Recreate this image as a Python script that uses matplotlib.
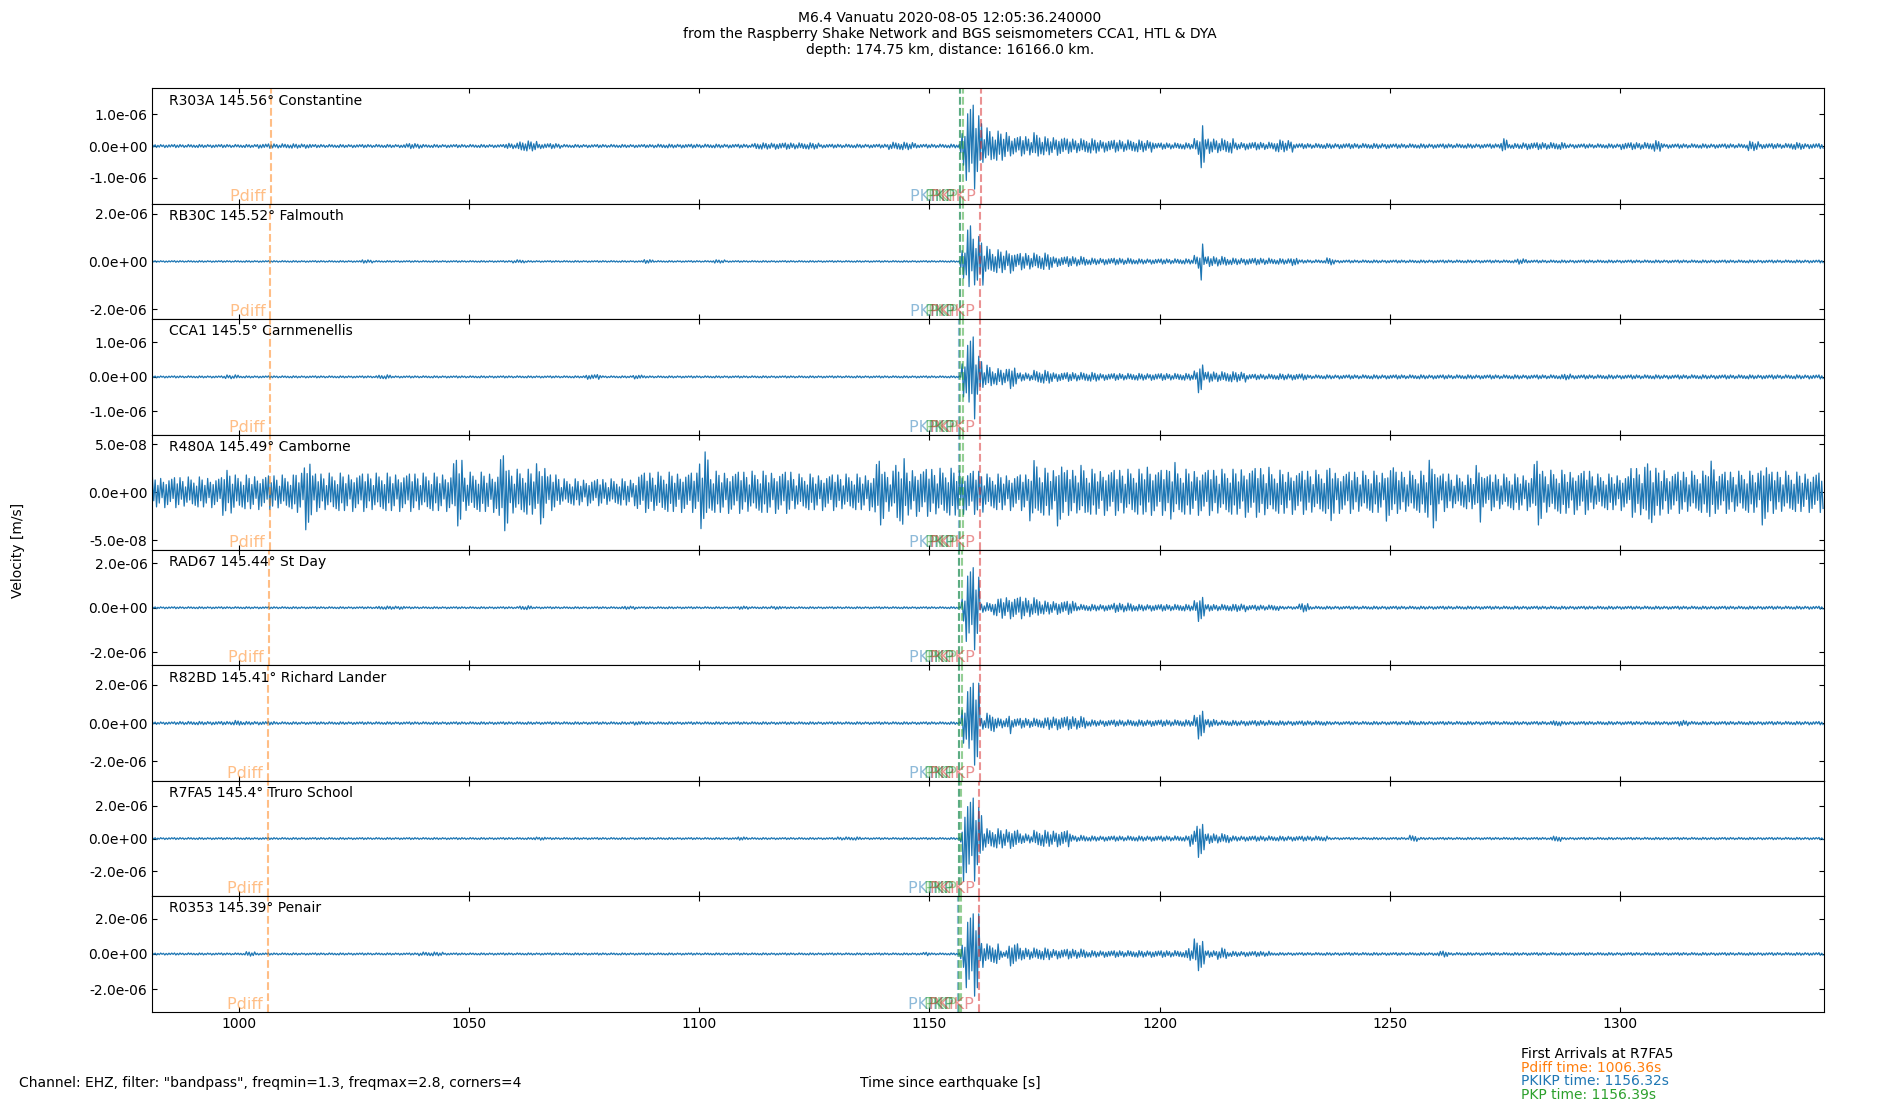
import numpy as np
import matplotlib
matplotlib.use("Agg")
import matplotlib.pyplot as plt
import matplotlib.transforms as mtransforms

# ---------------- data ----------------
title_lines = [
    "M6.4 Vanuatu 2020-08-05 12:05:36.240000",
    "from the Raspberry Shake Network and BGS seismometers CCA1, HTL & DYA",
    "depth: 174.75 km, distance: 16166.0 km.",
]
footer_left = 'Channel: EHZ, filter: "bandpass", freqmin=1.3, freqmax=2.8, corners=4'
x_label = "Time since earthquake [s]"
y_label = "Velocity [m/s]"

stations = ["R303A", "RB30C", "CCA1", "R480A", "RAD67", "R82BD", "R7FA5", "R0353"]
distances = ["145.56", "145.52", "145.5", "145.49", "145.44", "145.41", "145.4", "145.39"]
places = ["Constantine", "Falmouth", "Carnmenellis", "Camborne", "St Day",
          "Richard Lander", "Truro School", "Penair"]

# amplitude unit of each envelope list
units = [1e-6, 1e-6, 1e-6, 1e-8, 1e-6, 1e-6, 1e-6, 1e-6]
y_limits = [1.81e-6, 2.41e-6, 1.675e-6, 6.0e-8, 2.6e-6, 3.02e-6, 3.52e-6, 3.28e-6]
y_tick_steps = [1e-6, 2e-6, 1e-6, 5e-8, 2e-6, 2e-6, 2e-6, 2e-6]

trace_start = 981.3
trace_end = 1344.2
x_ticks = [1000, 1050, 1100, 1150, 1200, 1250, 1300]

phase_names = ["Pdiff", "PKIKP", "PKP", "PKP", "PKiKP"]
phase_colors = ["C1", "C0", "C2", "C2", "C3"]
arrivals = [
    [1007.06, 1156.62, 1156.69, 1157.35, 1161.11],
    [1006.89, 1156.55, 1156.62, 1157.25, 1161.04],
    [1006.80, 1156.51, 1156.58, 1157.20, 1161.01],
    [1006.76, 1156.49, 1156.56, 1157.18, 1160.99],
    [1006.54, 1156.40, 1156.47, 1157.05, 1160.91],
    [1006.40, 1156.34, 1156.41, 1156.98, 1160.87],
    [1006.36, 1156.32, 1156.39, 1156.95, 1160.85],
    [1006.32, 1156.30, 1156.37, 1156.93, 1160.83],
]

first_arrival_station = "R7FA5"
first_arrival_lines = ["Pdiff time: 1006.36s", "PKIKP time: 1156.32s", "PKP time: 1156.39s"]
first_arrival_colors = ["C1", "C0", "C2"]

# envelope (peak amplitude) per time segment, segment start times in s
seg_start_R303A = [981.3, 1004, 1016, 1036, 1040, 1058, 1060.5, 1065, 1070, 1090, 1112, 1126, 1141, 1147,
                   1156.6, 1157.7, 1159.8, 1161.3, 1163.5, 1167.4, 1172.5, 1174, 1179.7, 1187, 1198.5,
                   1207.2, 1208.7, 1209.8, 1216, 1225, 1229, 1250, 1273.8, 1275.5, 1278.5, 1288, 1300,
                   1307, 1309, 1327.5, 1330, 1337, 1340]
seg_amp_R303A = [0.05, 0.07, 0.05, 0.08, 0.05, 0.09, 0.16, 0.08, 0.05, 0.06, 0.10, 0.06, 0.12, 0.06,
                 0.60, 1.35, 1.00, 0.57, 0.47, 0.31, 0.42, 0.29, 0.23, 0.19, 0.10,
                 0.26, 0.85, 0.23, 0.12, 0.19, 0.08, 0.07, 0.23, 0.08, 0.11, 0.07, 0.11,
                 0.17, 0.07, 0.15, 0.08, 0.11, 0.08]

seg_start_RB30C = [981.3, 1026.5, 1029, 1059.5, 1062, 1087.5, 1090, 1103, 1105.5,
                   1156.6, 1158, 1159.1, 1160.6, 1161.7, 1163.1, 1168.2, 1176.8, 1184, 1194,
                   1207.2, 1208.7, 1209.4, 1214.5, 1224, 1228, 1230, 1236, 1238, 1277.5, 1279.5]
seg_amp_RB30C = [0.035, 0.07, 0.035, 0.07, 0.035, 0.08, 0.035, 0.07, 0.035,
                 0.70, 1.75, 0.98, 1.10, 0.63, 0.49, 0.35, 0.21, 0.14, 0.11,
                 0.28, 0.97, 0.21, 0.14, 0.12, 0.17, 0.07, 0.15, 0.06, 0.12, 0.06]

seg_start_CCA1 = [981.3, 997, 1000, 1030, 1033, 1075, 1078.5, 1085.5, 1088,
                  1157, 1158, 1159.8, 1161.3, 1163.5, 1166.7, 1168.9, 1172.5, 1176.8, 1187,
                  1207.2, 1208.3, 1209.4, 1218.8, 1226, 1232, 1287.5, 1289.5]
seg_amp_CCA1 = [0.03, 0.06, 0.03, 0.06, 0.03, 0.07, 0.03, 0.06, 0.03,
                0.58, 1.22, 0.63, 0.34, 0.24, 0.34, 0.12, 0.19, 0.13, 0.10,
                0.19, 0.46, 0.15, 0.08, 0.09, 0.06, 0.09, 0.06]

seg_start_R480A = [981.3, 996.5, 999, 1012, 1014, 1016, 1030, 1046.5, 1048.5, 1056.5, 1058.5, 1064.5,
                   1066.5, 1069.5, 1086.5, 1100, 1102, 1120, 1138, 1140, 1142.5, 1144.5, 1156.6,
                   1161.6, 1171.5, 1173.5, 1177.5, 1179, 1182, 1184, 1196.5, 1198, 1202, 1203.5,
                   1217.5, 1224, 1236.5, 1238, 1249, 1251, 1258, 1260, 1263, 1268.5, 1270, 1281,
                   1283, 1294, 1302, 1305.5, 1307, 1310, 1319, 1320.5, 1330.3, 1332, 1337]
seg_amp_R480A = [1.6, 2.4, 1.8, 2.2, 3.9, 2.0, 2.0, 3.5, 2.1, 4.0, 2.4, 3.3,
                 1.9, 1.4, 2.1, 4.2, 2.2, 1.9, 3.4, 2.2, 3.5, 2.5, 2.3,
                 1.9, 3.3, 2.5, 3.5, 2.4, 2.8, 2.4, 2.9, 2.4, 3.1, 2.4,
                 2.6, 2.3, 3.1, 2.2, 3.0, 2.2, 3.7, 2.0, 1.8, 3.1, 1.9, 3.4,
                 2.3, 1.9, 2.6, 3.7, 2.5, 2.2, 3.6, 2.2, 3.4, 2.2, 2.1]

seg_start_RAD67 = [981.3, 1030, 1036, 1061, 1063.5, 1083.5, 1086, 1108.5, 1111, 1115.5, 1118,
                   1157, 1157.7, 1159.9, 1160.9, 1163.8, 1165.3, 1170.3, 1174, 1181.9, 1189.9,
                   1194.2, 1207.2, 1208.3, 1209.8, 1216, 1218.8, 1224, 1226, 1230, 1232.5]
seg_amp_RAD67 = [0.045, 0.075, 0.045, 0.09, 0.045, 0.075, 0.045, 0.075, 0.045, 0.075, 0.045,
                 0.60, 1.90, 1.45, 0.23, 0.38, 0.50, 0.45, 0.30, 0.15, 0.21,
                 0.15, 0.35, 0.62, 0.15, 0.18, 0.12, 0.13, 0.07, 0.19, 0.07]

seg_start_R82BD = [981.3, 987, 998.5, 1000.5, 1008, 1085.5, 1088,
                   1157, 1158, 1160.9, 1162.4, 1164.5, 1166.7, 1167.8, 1175.4, 1184,
                   1207.2, 1208.3, 1209.8, 1212.5, 1224, 1236, 1253.5, 1255.5, 1285, 1287,
                   1312.5, 1315]
seg_amp_R82BD = [0.07, 0.09, 0.14, 0.09, 0.07, 0.10, 0.07,
                 1.05, 2.20, 0.35, 0.52, 0.26, 0.55, 0.26, 0.35, 0.17,
                 0.45, 0.83, 0.20, 0.14, 0.12, 0.09, 0.12, 0.09, 0.15, 0.09,
                 0.15, 0.09]

seg_start_R7FA5 = [981.3, 1064, 1066.5, 1108, 1110.5, 1130, 1135,
                   1156.6, 1157.3, 1159.9, 1161.3, 1162.4, 1169.6, 1172.5, 1180.5, 1184,
                   1206.5, 1207.8, 1209.8, 1215.2, 1224, 1236.5, 1254, 1256, 1285, 1287]
seg_amp_R7FA5 = [0.06, 0.10, 0.06, 0.10, 0.06, 0.10, 0.06,
                 0.60, 2.60, 2.00, 0.80, 0.60, 0.30, 0.50, 0.20, 0.16,
                 0.50, 1.15, 0.30, 0.16, 0.15, 0.07, 0.20, 0.07, 0.18, 0.07]

seg_start_R0353 = [981.3, 1001.5, 1004, 1039, 1044.5, 1148.5, 1150,
                   1156.6, 1157.7, 1160.9, 1162, 1165.3, 1166.7, 1169.6, 1176.1, 1184,
                   1205.8, 1207.2, 1209.8, 1212.3, 1214.5, 1224, 1260.5, 1262.5]
seg_amp_R0353 = [0.06, 0.13, 0.06, 0.11, 0.06, 0.10, 0.06,
                 0.76, 2.40, 0.85, 0.57, 0.20, 0.68, 0.34, 0.28, 0.19,
                 0.38, 0.95, 0.19, 0.34, 0.15, 0.08, 0.17, 0.08]

seg_starts = [seg_start_R303A, seg_start_RB30C, seg_start_CCA1, seg_start_R480A,
              seg_start_RAD67, seg_start_R82BD, seg_start_R7FA5, seg_start_R0353]
seg_amps = [seg_amp_R303A, seg_amp_RB30C, seg_amp_CCA1, seg_amp_R480A,
            seg_amp_RAD67, seg_amp_R82BD, seg_amp_R7FA5, seg_amp_R0353]

# ---------------- drawing style ----------------
swing_step = 0.3           # s between successive extremes of the wiggle
swing_shape = [1.0, 0.55, 0.8, 0.95, 0.45, 0.7, 0.9, 0.35, 0.65, 1.0, 0.5,
               0.8, 0.75, 0.6, 0.85, 0.4, 0.95]

fig = plt.figure(figsize=(19, 11), dpi=100)
axes = fig.subplots(len(stations), 1, sharex=True)
fig.subplots_adjust(left=0.0802, right=0.96, bottom=0.0803, top=0.9197, hspace=0)

t = np.arange(trace_start, trace_end + 1e-9, swing_step)
k = np.arange(len(t))
shape = np.array(swing_shape)[k % len(swing_shape)]
sign = np.where(k % 2 == 0, 1.0, -1.0)

for i, ax in enumerate(axes):
    starts = np.array(seg_starts[i])
    amps = np.array(seg_amps[i]) * units[i]
    idx = np.clip(np.searchsorted(starts, t, side="right") - 1, 0, len(amps) - 1)
    y = amps[idx] * shape * sign
    ax.plot(t, y, color="C0", lw=0.9)

    ax.set_xlim(trace_start, trace_end)
    ax.set_ylim(-y_limits[i], y_limits[i])
    st = y_tick_steps[i]
    ax.set_yticks([-st, 0, st])
    ax.set_yticklabels(["{:.1e}".format(v) for v in (-st, 0.0, st)])
    ax.tick_params(direction="in", top=True, right=True, labelsize=10)

    ax.text(0.01, 0.955, f"{stations[i]} {distances[i]}\u00b0 {places[i]}",
            transform=ax.transAxes, ha="left", va="top", fontsize=10)

    trans = mtransforms.blended_transform_factory(ax.transData, ax.transAxes)
    for name, col, tt in zip(phase_names, phase_colors, arrivals[i]):
        ax.axvline(tt, color=col, ls="--", lw=1.5, alpha=0.5)
        ax.text(tt, 0.0, name + " ", transform=trans, ha="right", va="bottom",
                color=col, alpha=0.5, fontsize=11.5)

axes[-1].set_xticks(x_ticks)
axes[-1].set_xticklabels([str(v) for v in x_ticks])

fig.text(0.5, 0.969, "\n".join(title_lines), ha="center", va="center",
         multialignment="center", fontsize=10)
fig.text(0.0097, 0.5, y_label, rotation=90, ha="center", va="center", fontsize=10)
fig.text(0.01, 0.0153, footer_left, ha="left", va="center", fontsize=10)
fig.text(0.5, 0.0153, x_label, ha="center", va="center", fontsize=10)

fa_y = [0.0418, 0.0291, 0.0170, 0.0048]
fig.text(0.8006, fa_y[0], f"First Arrivals at {first_arrival_station}", ha="left",
         va="center", fontsize=10)
for line, col, yy in zip(first_arrival_lines, first_arrival_colors, fa_y[1:]):
    fig.text(0.8006, yy, line, color=col, ha="left", va="center", fontsize=10)

fig.savefig("out.png", dpi=100)
